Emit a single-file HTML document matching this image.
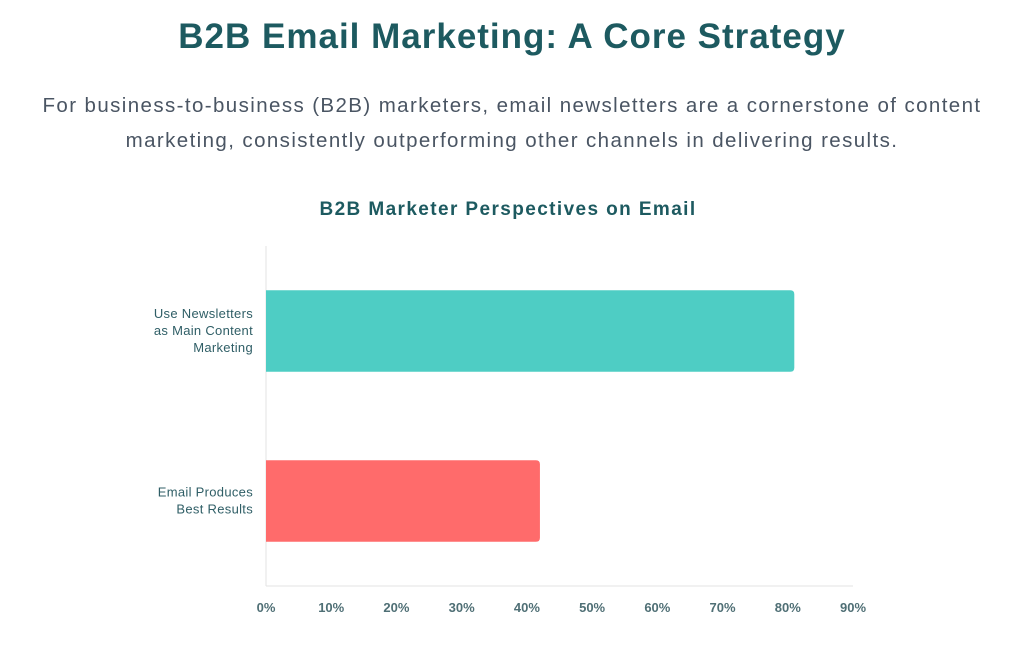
<!DOCTYPE html>
<html><head><meta charset="utf-8"><style>
body{margin:0;width:1024px;height:648px;background:#fff;font-family:"Liberation Sans",sans-serif;overflow:hidden;position:relative}
h1{position:absolute;top:17px;left:0;width:1024px;text-align:center;margin:0;font-size:35px;font-weight:bold;color:#1d5a60;letter-spacing:1px}
p{position:absolute;top:88px;left:0;width:1024px;text-align:center;margin:0;font-size:20.5px;line-height:35px;color:#4a5563;letter-spacing:1.4px}
</style></head><body>
<h1>B2B Email Marketing: A Core Strategy</h1>
<p>For business-to-business (B2B) marketers, email newsletters are a cornerstone of content<br>marketing, consistently outperforming other channels in delivering results.</p>
<svg id="chart" width="1024" height="648" style="position:absolute;left:0;top:0" font-family="Liberation Sans, sans-serif">
<text x="508" y="215" text-anchor="middle" font-size="19" font-weight="bold" fill="#1d5a60" letter-spacing="1.4">B2B Marketer Perspectives on Email</text>
</svg>
<script>
const categories=[["Use Newsletters","as Main Content","Marketing"],["Email Produces","Best Results"]];
const values=[81,42];
const colors=["#4ecdc4","#ff6b6b"];
const ticks=[0,10,20,30,40,50,60,70,80,90];
const svg=document.getElementById('chart');
const NS='http://www.w3.org/2000/svg';
const x0=266,x1=853,top0=246,axisY=586;
const xs=v=>x0+(v/90)*(x1-x0);
const band=(axisY-top0)/categories.length;
function mk(t,a){const e=document.createElementNS(NS,t);for(const k in a)e.setAttribute(k,a[k]);svg.appendChild(e);return e;}
let l=mk('line',{x1:x0,y1:top0,x2:x0,y2:axisY,stroke:'#e3e3e3','stroke-width':1});


l=mk('line',{x1:x0,y1:axisY,x2:x1,y2:axisY,stroke:'#e3e3e3','stroke-width':1});


ticks.forEach(t=>{const e=mk('text',{x:xs(t),y:612,'text-anchor':'middle','font-size':13,'font-weight':'bold',fill:'#4f6f75'});e.textContent=t+'%';

});
categories.forEach((c,i)=>{
 const cy=top0+band*(i+0.5), h=band*0.48;
 const w=xs(values[i])-x0, y=cy-h/2, r=4;
 const p=mk('path',{d:`M${x0},${y}H${x0+w-r}Q${x0+w},${y} ${x0+w},${y+r}V${y+h-r}Q${x0+w},${y+h} ${x0+w-r},${y+h}H${x0}Z`,fill:colors[i]});
 
 
 const t=mk('text',{x:253,'text-anchor':'end','font-size':13,fill:'#2f5e66','letter-spacing':0.3});
 
 
 const n=c.length, lh=17;
 c.forEach((s,j)=>{const ts=document.createElementNS(NS,'tspan');ts.setAttribute('x',253);ts.setAttribute('y',cy+4+(j-(n-1)/2)*lh);ts.textContent=s;t.appendChild(ts);});
});
</script>
</body></html>
